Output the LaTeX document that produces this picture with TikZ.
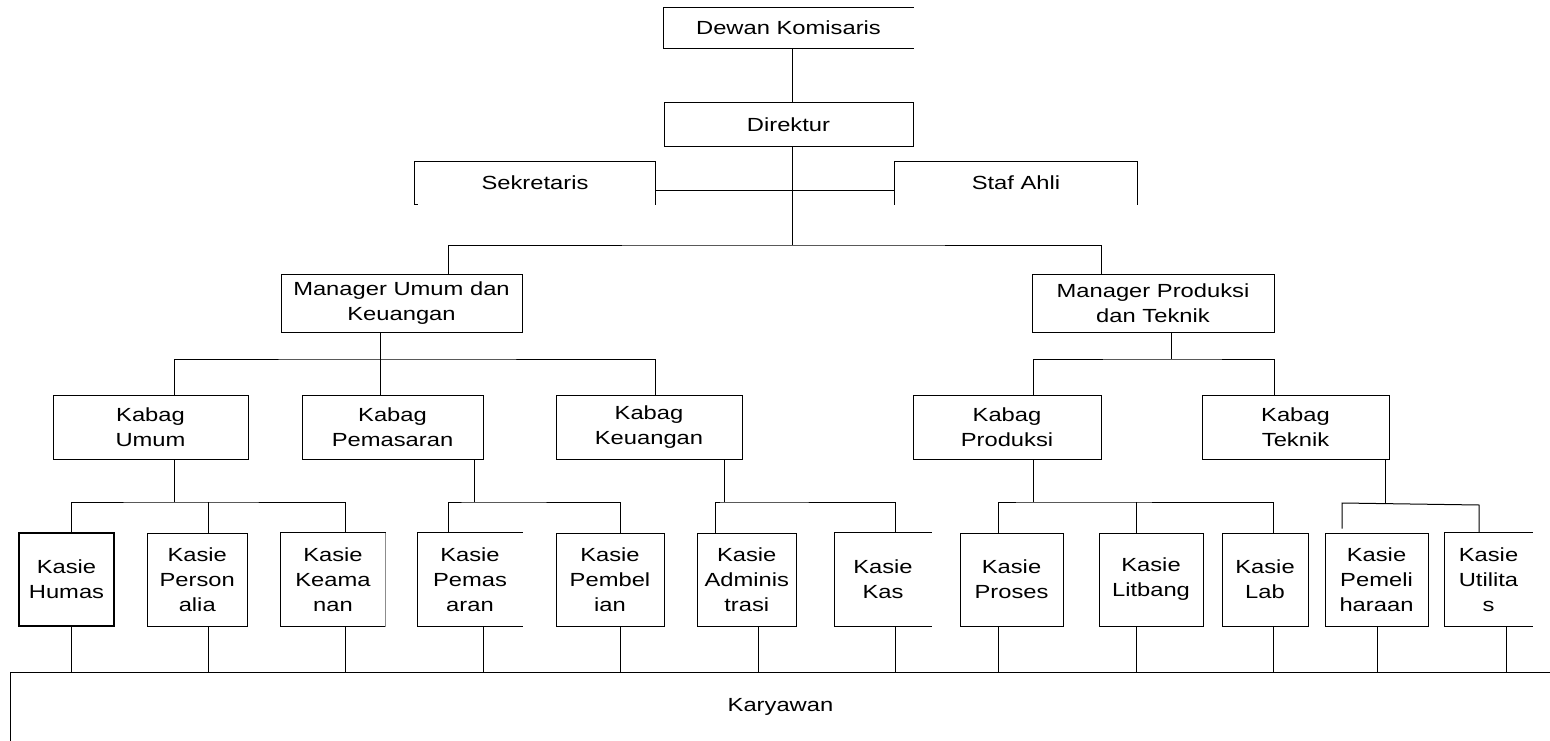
\documentclass[tikz,border=0pt]{standalone}
\usepackage{fontspec}
\setmainfont{Liberation Sans}[FakeStretch=1.25]
\begin{document}
\begin{tikzpicture}[x=1pt,y=-1pt,line width=1pt,
  every node/.style={inner sep=0pt,align=center,font=\fontsize{19}{25}\selectfont},
  orgbox/.style={draw,minimum width=#1},
  openbox/.style={minimum width=#1},
  mgr/.style={minimum height=58pt},
  kabag/.style={minimum height=64pt},
  kasie/.style={minimum height=93pt}]
\useasboundingbox (0,0) rectangle (1550,741);

% top
\node[openbox=249,minimum height=40pt] (dk) at (788.5,28) {Dewan Komisaris};
\draw (dk.north east) -- (dk.north west) -- (dk.south west) -- (dk.south east);
\node[orgbox=249,minimum height=44pt] (dir) at (788.5,125) {Direktur};
\node[openbox=240,minimum height=42pt] (sek) at (535,183) {Sekretaris};
\draw (sek.south west) -- (sek.north west) -- (sek.north east) -- (sek.south east);
\draw (sek.south west) -- ++(3,0);
\node[openbox=242,minimum height=42pt] (staf) at (1016,183) {Staf Ahli};
\draw (staf.south west) -- (staf.north west) -- (staf.north east) -- (staf.south east);

% managers
\node[orgbox=241,mgr] (mu) at (401.5,303) {Manager Umum dan\\Keuangan};
\node[orgbox=242,mgr] (mp) at (1153,303) {Manager Produksi\\dan Teknik};

% kabag
\node[orgbox=195,kabag] (ku) at (150.5,427) {Kabag\\Umum};
\node[orgbox=181,kabag] (kp) at (392.5,427) {Kabag\\Pemasaran};
\node[orgbox=186,kabag] (kk) at (649,427) {Kabag\\Keuangan};
\node[orgbox=188,kabag] (kpr) at (1007,427) {Kabag\\Produksi};
\node[orgbox=187,kabag] (kt) at (1295.5,427) {Kabag\\Teknik};

% kasie
\node[orgbox=95,kasie,line width=1.8pt] (humas) at (66.5,579.5) {Kasie\\Humas};
\node[orgbox=99.5,kasie] (pers) at (197.25,579.5) {Kasie\\Person\\alia};
\node[openbox=104,kasie] (keam) at (333,579.5) {Kasie\\Keama\\nan};
\draw (keam.north east) -- (keam.north west) -- (keam.south west) -- (keam.south east);
\draw[black!45] (keam.north east) -- (keam.south east);
\node[openbox=104,kasie] (kspem) at (470,579.5) {Kasie\\Pemas\\aran};
\draw (kspem.north east) -- (kspem.north west) -- (kspem.south west) -- (kspem.south east);
\node[orgbox=108,kasie] (kbel) at (610,579.5) {Kasie\\Pembel\\ian};
\node[orgbox=98.5,kasie] (kadm) at (746.75,579.5) {Kasie\\Adminis\\trasi};
\node[openbox=96,kasie] (kkas) at (883,579.5) {Kasie\\Kas};
\draw (kkas.north east) -- (kkas.north west) -- (kkas.south west) -- (kkas.south east);
\node[orgbox=103,kasie] (kpros) at (1011.5,579.5) {Kasie\\Proses};
\node[orgbox=104,kasie] (klit) at (1151,579.5) {Kasie\\Litbang};
\node[orgbox=86,kasie] (klab) at (1265,579.5) {Kasie\\Lab};
\node[orgbox=103,kasie] (kpem) at (1376.5,579.5) {Kasie\\Pemeli\\haraan};
\node[openbox=87,kasie] (kutil) at (1488.5,579.5) {Kasie\\Utilita\\s};
\draw (kutil.north east) -- (kutil.north west) -- (kutil.south west) -- (kutil.south east);

% karyawan
\node[openbox=1539,minimum height=68pt] (kar) at (780.5,707) {Karyawan};
\draw (kar.south west) -- (kar.north west) -- (kar.north east);

% connectors top
\draw (dk.south -| 792,0) -- (dir.north -| 792,0);
\draw (dir.south -| 792,0) -- (792,245) coordinate (bd);
\draw (mu.north -| 448,0) |- (bd) -| (mp.north -| 1101,0);
\draw (sek.east |- 0,190) -- (staf.west |- 0,190);

% managers to kabag
\draw (mu.south -| 380,0) -- (380,359) coordinate (bmu);
\draw (ku.north -| 174,0) |- (bmu) -| (kk.north -| 655,0);
\draw (bmu) -- (kp.north -| 380,0);
\draw (mp.south -| 1171,0) -- (1171,359) coordinate (bmp);
\draw (kpr.north -| 1033,0) |- (bmp) -| (kt.north -| 1274,0);

% kabag to kasie
\draw (ku.south -| 174,0) -- (174,502) coordinate (bku);
\draw (humas.north -| 71,0) |- (bku) -| (keam.north -| 345,0);
\draw (pers.north -| 208,0) -- (208,502);
\draw (kp.south -| 474,0) -- (474,502) coordinate (bkp);
\draw (kspem.north -| 448,0) |- (bkp) -| (kbel.north -| 620,0);
\draw (kk.south -| 724,0) -- (724,502) coordinate (bkk);
\draw (kadm.north -| 715,0) |- (bkk) -| (kkas.north -| 895,0);
\draw (kpr.south -| 1033,0) -- (1033,502) coordinate (bkpr);
\draw (kpros.north -| 998,0) |- (bkpr) -| (klab.north -| 1273,0);
\draw (klit.north -| 1136,0) -- (1136,502);
\draw (kt.south -| 1385,0) -- (1385,503);
\draw ([yshift=4pt]kpem.north -| 1342,0) -- (1342,503) -- (1479,505) -- (kutil.north -| 1479,0);

% kasie to karyawan
\foreach \n/\x in {humas/71,pers/208,keam/345,kspem/483,kbel/620,kadm/758,kkas/895,kpros/998,klit/1136,klab/1273,kpem/1377,kutil/1506}
  \draw (\n.south -| \x,0) -- (kar.north -| \x,0);
\end{tikzpicture}
\end{document}
